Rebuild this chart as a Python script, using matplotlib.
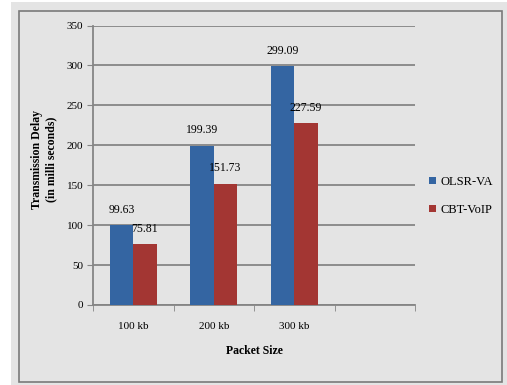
import matplotlib.pyplot as plt
import numpy as np
from matplotlib.patches import Rectangle

packet_sizes = ["100 kb", "200 kb", "300 kb", ""]
olsr_va = [99.63, 199.39, 299.09]
cbt_voip = [75.81, 151.73, 227.59]
y_ticks = [0, 50, 100, 150, 200, 250, 300, 350]

BLUE = "#3465A2"
RED = "#A33633"
BG = "#E4E4E4"
GRID = "#858585"

plt.rcParams["font.family"] = ["Liberation Serif", "DejaVu Serif"]

fig = plt.figure(figsize=(5.07, 3.85), dpi=100)
fig.patch.set_facecolor("white")

# gray panel and its inner frame
fig.patches.append(Rectangle((11 / 507, 0), 1, 1 - 2 / 385, transform=fig.transFigure,
                             facecolor=BG, edgecolor="none", zorder=-10))
fig.patches.append(Rectangle((19 / 507, 1 - 382 / 385), (502 - 19) / 507, (382 - 11) / 385,
                             transform=fig.transFigure, facecolor="none",
                             edgecolor="#7a7a7a", linewidth=1.2, zorder=-5))

ax = fig.add_axes([93 / 507, 1 - 305 / 385, (415 - 93) / 507, (305 - 25.5) / 385])
ax.set_facecolor(BG)

x = np.arange(len(packet_sizes))
w = 0.29
b1 = ax.bar(x[:3] - w / 2, olsr_va, w, color=BLUE, label="OLSR-VA", zorder=3)
b2 = ax.bar(x[:3] + w / 2, cbt_voip, w, color=RED, label="CBT-VoIP", zorder=3)

for bars, vals in ((b1, olsr_va), (b2, cbt_voip)):
    for bar, v in zip(bars, vals):
        ax.text(bar.get_x() + bar.get_width() / 2, v + 12, f"{v:.2f}",
                ha="center", va="bottom", fontsize=8.5, zorder=4)

ax.set_xlim(-0.5, 3.5)
ax.set_ylim(0, 350)
ax.set_yticks(y_ticks)
ax.set_xticks(x)
ax.set_xticklabels(packet_sizes)
ax.set_xticks(np.arange(-0.5, 4, 1), minor=True)
ax.tick_params(axis="x", which="major", length=0, pad=12, labelsize=8)
ax.tick_params(axis="x", which="minor", length=4, color=GRID, direction="out")
ax.tick_params(axis="y", length=4, color=GRID, labelsize=8, pad=3)

ax.yaxis.grid(True, color=GRID, linewidth=1.3, zorder=0)
for side in ("top", "right"):
    ax.spines[side].set_visible(False)
for side in ("left", "bottom"):
    ax.spines[side].set_color(GRID)
    ax.spines[side].set_linewidth(1.3)

ax.set_xlabel("Packet Size", fontweight="bold", fontsize=8.5, labelpad=10)
ax.set_ylabel("Transmission Delay\n(in milli seconds)", fontweight="bold",
              fontsize=8.5, linespacing=1.3)
ax.yaxis.set_label_coords(-0.11, 0.52)

ax.legend(loc="center left", bbox_to_anchor=(1.01, 0.39), frameon=False,
          fontsize=9, handlelength=0.55, handleheight=0.55, handletextpad=0.35,
          labelspacing=1.3)

fig.savefig("out.png", dpi=100)
